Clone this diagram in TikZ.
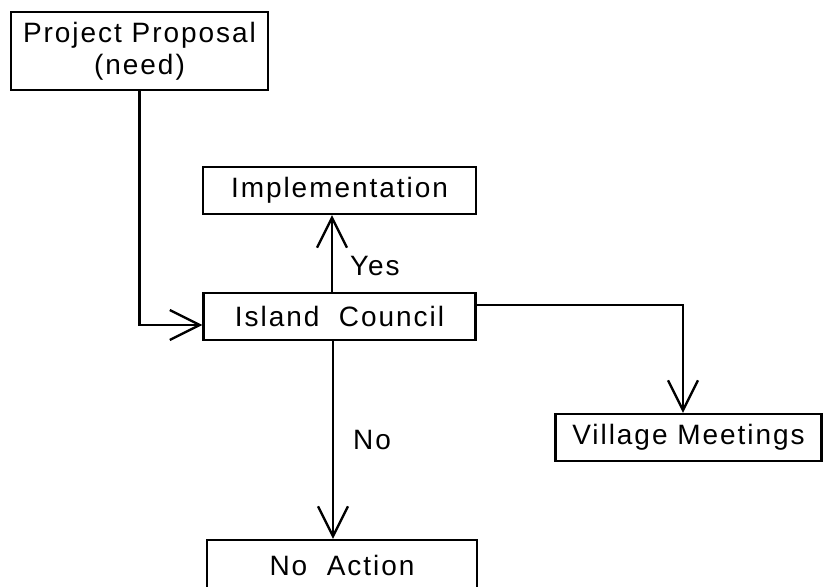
\documentclass[tikz,border=0pt]{standalone}
\usepackage{fontspec}
\setmainfont[LetterSpace=7]{Liberation Sans}
\usetikzlibrary{arrows.meta}

\begin{document}
\begin{tikzpicture}[x=1pt, y=-1pt, line width=2.3pt,
  >={Straight Barb[length=30pt,width=30pt]},
  box/.style={draw, rectangle, inner sep=0pt, minimum height=47pt,
    font=\fontsize{28}{32}\selectfont},
  lbl/.style={inner sep=0pt, anchor=west, font=\fontsize{28}{32}\selectfont}]
  \useasboundingbox (0,0) rectangle (823,587);
  \node[box, minimum width=257pt, minimum height=78pt, align=center] (prop) at (139.5,51) {Project Proposal\\(need)};
  \node[box, minimum width=273pt] (impl) at (339.5,190.5) {Implementation};
  \node[box, minimum width=272pt] (council) at (339.5,316.5) {Island\ \ Council};
  \node[box, minimum width=266pt] (village) at (688.5,437.5) {Village Meetings};
  \node[box, minimum width=270pt, minimum height=50pt] (noact) at (342,565) {No\ \ Action};
  \draw[->] (prop.south) |- ([yshift=-8.5pt]council.west);
  \draw[->] ([xshift=-7.5pt]council.north) -- node[lbl, pos=0.34, xshift=17pt] (yes) {Yes} ([xshift=-7.5pt]impl.south);
  \draw[->] ([yshift=11.5pt]council.east) -| ([xshift=-5.5pt]village.north);
  \draw[->] ([xshift=-6.5pt]council.south) -- node[lbl, xshift=19pt] (no) {No} ([xshift=-9pt]noact.north);
\end{tikzpicture}
\end{document}
